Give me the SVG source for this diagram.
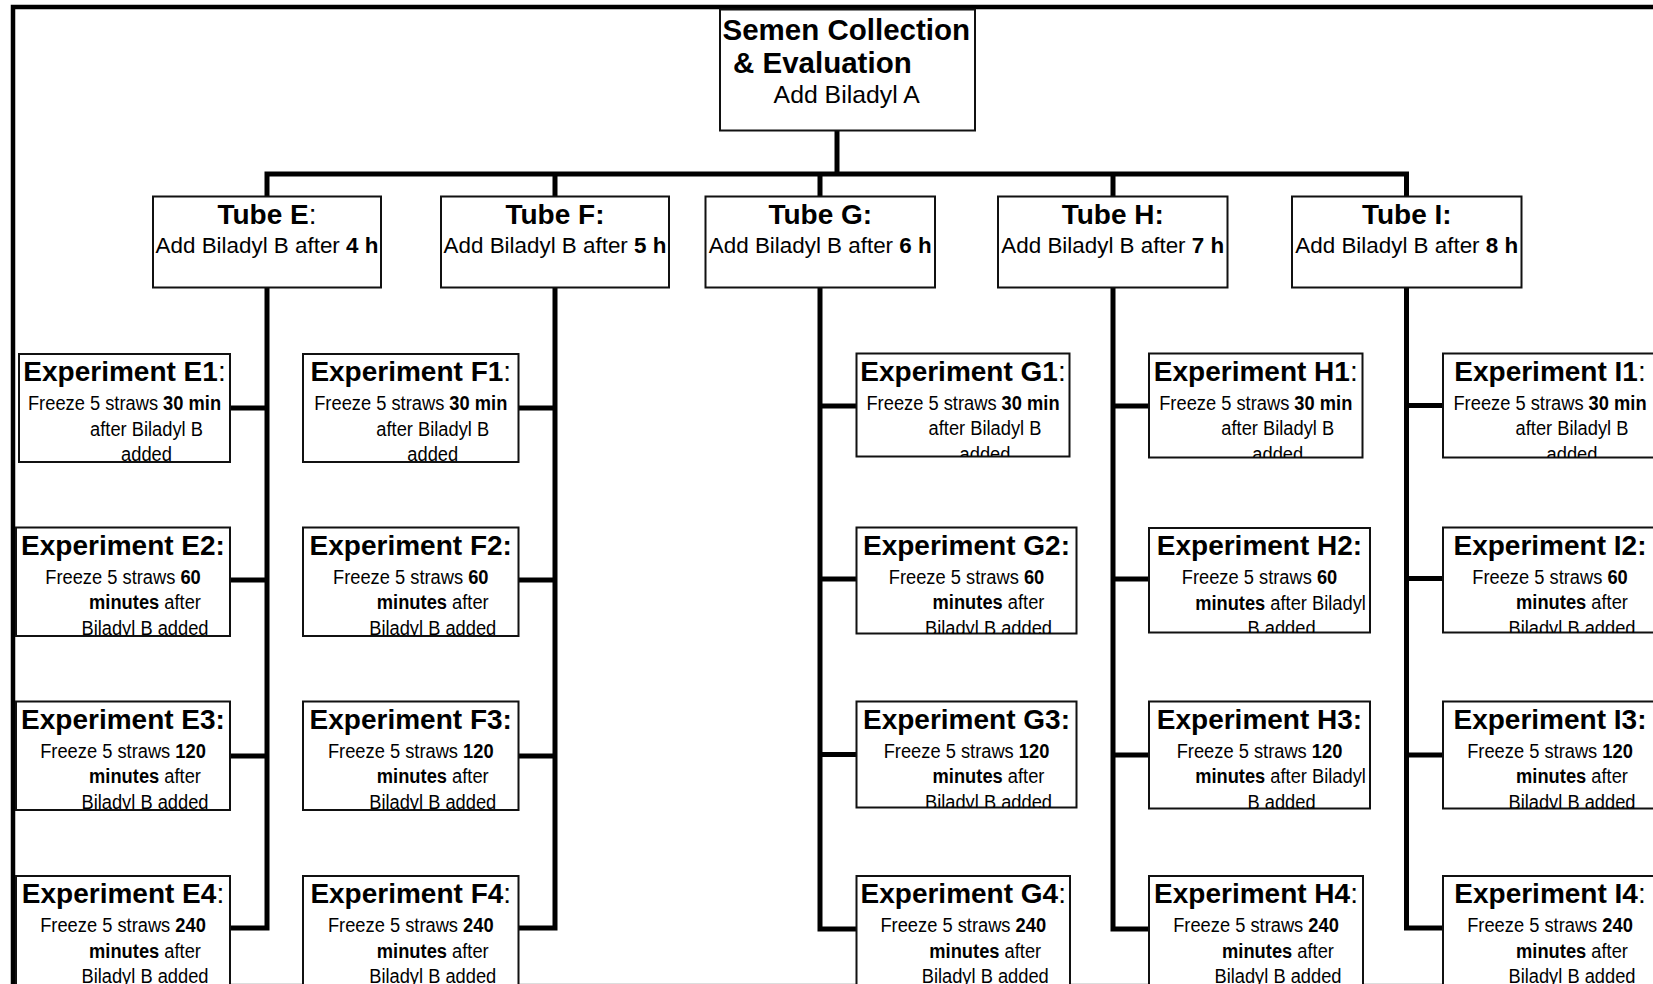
<svg xmlns="http://www.w3.org/2000/svg" width="1653" height="984" viewBox="0 0 1653 984">
<style>
.box{fill:#fff;stroke:#111;stroke-width:2}
.wire{fill:none;stroke:#000;stroke-width:5;stroke-linejoin:miter;stroke-linecap:butt}
.frame{fill:none;stroke:#000;stroke-width:4.5}
text{font-family:"Liberation Sans",Arial,sans-serif;fill:#000}
.b{font-weight:bold}
.r{font-weight:normal}
.rt{font-size:29.5px;font-weight:bold}
.rs{font-size:24.8px}
.tt{font-size:28px;font-weight:bold;text-anchor:middle}
.ts{font-size:22.4px;text-anchor:middle}
.et{font-size:28px;font-weight:bold;text-anchor:middle}
.eb{font-size:20px;text-anchor:middle}
</style>
<rect width="1653" height="984" fill="#fff"/>
<line x1="15" y1="983.5" x2="1653" y2="983.5" stroke="#ddd" stroke-width="1"/>
<rect class="frame" x="13" y="7" width="2000" height="2000"/>

<g id="connectors">
<path class="wire" d="M837,130.5 V174"/>
<path class="wire" d="M267,196.5 V174 H1406.5 V196.5"/>
<path class="wire" d="M555,174 V196.5 M820,174 V196.5 M1113,174 V196.5"/>
<path class="wire" d="M267,287.5 V928 H230 M230,408 H267 M230,580 H267 M230,756 H267"/>
<path class="wire" d="M555,287.5 V928 H518.5 M518.5,408 H555 M518.5,580 H555 M518.5,756 H555"/>
<path class="wire" d="M820,287.5 V929 H856.5 M820,406 H856.5 M820,579 H856.5 M820,754.5 H856.5"/>
<path class="wire" d="M1113,287.5 V929 H1149 M1113,406 H1149 M1113,579 H1149 M1113,755 H1149"/>
<path class="wire" d="M1406.5,287.5 V928 H1443 M1406.5,405.5 H1443 M1406.5,578.5 H1443 M1406.5,755 H1443"/>
</g>

<g id="root">
<rect class="box" x="720" y="9.5" width="255" height="121"/>
<text class="rt" x="722.5" y="39.5">Semen Collection</text>
<text class="rt" x="733" y="72.7">&amp; Evaluation</text>
<text class="rs" x="773.6" y="103.3">Add Biladyl A</text>
</g>

<g id="tubeE">
<rect class="box" x="153" y="196.5" width="228" height="91"/>
<text class="tt" x="267" y="223.5">Tube E<tspan class="r">:</tspan></text>
<text class="ts" x="267" y="253">Add Biladyl B after <tspan class="b">4 h</tspan></text>
</g>
<g id="tubeF">
<rect class="box" x="441" y="196.5" width="228" height="91"/>
<text class="tt" x="555" y="223.5">Tube F:</text>
<text class="ts" x="555" y="253">Add Biladyl B after <tspan class="b">5 h</tspan></text>
</g>
<g id="tubeG">
<rect class="box" x="705.5" y="196.5" width="229.5" height="91"/>
<text class="tt" x="820.25" y="223.5">Tube G:</text>
<text class="ts" x="820.25" y="253">Add Biladyl B after <tspan class="b">6 h</tspan></text>
</g>
<g id="tubeH">
<rect class="box" x="998" y="196.5" width="229.5" height="91"/>
<text class="tt" x="1112.75" y="223.5">Tube H:</text>
<text class="ts" x="1112.75" y="253">Add Biladyl B after <tspan class="b">7 h</tspan></text>
</g>
<g id="tubeI">
<rect class="box" x="1292" y="196.5" width="229.5" height="91"/>
<text class="tt" x="1406.75" y="223.5">Tube I:</text>
<text class="ts" x="1406.75" y="253">Add Biladyl B after <tspan class="b">8 h</tspan></text>
</g>

<!-- Column E -->
<g id="expE1">
<rect class="box" x="19" y="354" width="211" height="108"/>
<svg x="19" y="354" width="211" height="108">
<text class="et" x="105.5" y="27">Experiment E1<tspan class="r">:</tspan></text>
<text class="eb" transform="translate(105.5 56) scale(.915 1)">Freeze 5 straws <tspan class="b">30 min</tspan></text>
<text class="eb" transform="translate(127.5 81.5) scale(.915 1)">after Biladyl B</text>
<text class="eb" transform="translate(127.5 107) scale(.915 1)">added</text>
</svg>
</g>
<g id="expE2">
<rect class="box" x="16" y="527.5" width="214" height="108.5"/>
<svg x="16" y="527.5" width="214" height="108.5">
<text class="et" x="107" y="27">Experiment E2:</text>
<text class="eb" transform="translate(107 56) scale(.915 1)">Freeze 5 straws <tspan class="b">60</tspan></text>
<text class="eb" transform="translate(129 81.5) scale(.915 1)"><tspan class="b">minutes</tspan> after</text>
<text class="eb" transform="translate(129 107) scale(.915 1)">Biladyl B added</text>
</svg>
</g>
<g id="expE3">
<rect class="box" x="16" y="701.5" width="214" height="108.5"/>
<svg x="16" y="701.5" width="214" height="108.5">
<text class="et" x="107" y="27">Experiment E3:</text>
<text class="eb" transform="translate(107 56) scale(.915 1)">Freeze 5 straws <tspan class="b">120</tspan></text>
<text class="eb" transform="translate(129 81.5) scale(.915 1)"><tspan class="b">minutes</tspan> after</text>
<text class="eb" transform="translate(129 107) scale(.915 1)">Biladyl B added</text>
</svg>
</g>
<g id="expE4">
<rect class="box" x="16" y="876" width="214" height="110"/>
<svg x="16" y="876" width="214" height="110">
<text class="et" x="107" y="27">Experiment E4<tspan class="r">:</tspan></text>
<text class="eb" transform="translate(107 56) scale(.915 1)">Freeze 5 straws <tspan class="b">240</tspan></text>
<text class="eb" transform="translate(129 81.5) scale(.915 1)"><tspan class="b">minutes</tspan> after</text>
<text class="eb" transform="translate(129 107) scale(.915 1)">Biladyl B added</text>
</svg>
</g>

<!-- Column F -->
<g id="expF1">
<rect class="box" x="303" y="354" width="215.5" height="108"/>
<svg x="303" y="354" width="215.5" height="108">
<text class="et" x="107.75" y="27">Experiment F1<tspan class="r">:</tspan></text>
<text class="eb" transform="translate(107.75 56) scale(.915 1)">Freeze 5 straws <tspan class="b">30 min</tspan></text>
<text class="eb" transform="translate(129.75 81.5) scale(.915 1)">after Biladyl B</text>
<text class="eb" transform="translate(129.75 107) scale(.915 1)">added</text>
</svg>
</g>
<g id="expF2">
<rect class="box" x="303" y="527.5" width="215.5" height="108.5"/>
<svg x="303" y="527.5" width="215.5" height="108.5">
<text class="et" x="107.75" y="27">Experiment F2:</text>
<text class="eb" transform="translate(107.75 56) scale(.915 1)">Freeze 5 straws <tspan class="b">60</tspan></text>
<text class="eb" transform="translate(129.75 81.5) scale(.915 1)"><tspan class="b">minutes</tspan> after</text>
<text class="eb" transform="translate(129.75 107) scale(.915 1)">Biladyl B added</text>
</svg>
</g>
<g id="expF3">
<rect class="box" x="303" y="701.5" width="215.5" height="108.5"/>
<svg x="303" y="701.5" width="215.5" height="108.5">
<text class="et" x="107.75" y="27">Experiment F3:</text>
<text class="eb" transform="translate(107.75 56) scale(.915 1)">Freeze 5 straws <tspan class="b">120</tspan></text>
<text class="eb" transform="translate(129.75 81.5) scale(.915 1)"><tspan class="b">minutes</tspan> after</text>
<text class="eb" transform="translate(129.75 107) scale(.915 1)">Biladyl B added</text>
</svg>
</g>
<g id="expF4">
<rect class="box" x="303" y="876" width="215.5" height="110"/>
<svg x="303" y="876" width="215.5" height="110">
<text class="et" x="107.75" y="27">Experiment F4<tspan class="r">:</tspan></text>
<text class="eb" transform="translate(107.75 56) scale(.915 1)">Freeze 5 straws <tspan class="b">240</tspan></text>
<text class="eb" transform="translate(129.75 81.5) scale(.915 1)"><tspan class="b">minutes</tspan> after</text>
<text class="eb" transform="translate(129.75 107) scale(.915 1)">Biladyl B added</text>
</svg>
</g>

<!-- Column G -->
<g id="expG1">
<rect class="box" x="856.5" y="353.5" width="213" height="103"/>
<svg x="856.5" y="353.5" width="213" height="103">
<text class="et" x="106.5" y="27">Experiment G1<tspan class="r">:</tspan></text>
<text class="eb" transform="translate(106.5 56) scale(.915 1)">Freeze 5 straws <tspan class="b">30 min</tspan></text>
<text class="eb" transform="translate(128.5 81.5) scale(.915 1)">after Biladyl B</text>
<text class="eb" transform="translate(128.5 107) scale(.915 1)">added</text>
</svg>
</g>
<g id="expG2">
<rect class="box" x="856.5" y="527.5" width="220" height="106"/>
<svg x="856.5" y="527.5" width="220" height="106">
<text class="et" x="110" y="27">Experiment G2:</text>
<text class="eb" transform="translate(110 56) scale(.915 1)">Freeze 5 straws <tspan class="b">60</tspan></text>
<text class="eb" transform="translate(132 81.5) scale(.915 1)"><tspan class="b">minutes</tspan> after</text>
<text class="eb" transform="translate(132 107) scale(.915 1)">Biladyl B added</text>
</svg>
</g>
<g id="expG3">
<rect class="box" x="856.5" y="701.5" width="220" height="106"/>
<svg x="856.5" y="701.5" width="220" height="106">
<text class="et" x="110" y="27">Experiment G3:</text>
<text class="eb" transform="translate(110 56) scale(.915 1)">Freeze 5 straws <tspan class="b">120</tspan></text>
<text class="eb" transform="translate(132 81.5) scale(.915 1)"><tspan class="b">minutes</tspan> after</text>
<text class="eb" transform="translate(132 107) scale(.915 1)">Biladyl B added</text>
</svg>
</g>
<g id="expG4">
<rect class="box" x="856.5" y="876" width="213.5" height="110"/>
<svg x="856.5" y="876" width="213.5" height="110">
<text class="et" x="106.75" y="27">Experiment G4<tspan class="r">:</tspan></text>
<text class="eb" transform="translate(106.75 56) scale(.915 1)">Freeze 5 straws <tspan class="b">240</tspan></text>
<text class="eb" transform="translate(128.75 81.5) scale(.915 1)"><tspan class="b">minutes</tspan> after</text>
<text class="eb" transform="translate(128.75 107) scale(.915 1)">Biladyl B added</text>
</svg>
</g>

<!-- Column H -->
<g id="expH1">
<rect class="box" x="1149" y="353.5" width="213.5" height="104"/>
<svg x="1149" y="353.5" width="213.5" height="104">
<text class="et" x="106.75" y="27">Experiment H1<tspan class="r">:</tspan></text>
<text class="eb" transform="translate(106.75 56) scale(.915 1)">Freeze 5 straws <tspan class="b">30 min</tspan></text>
<text class="eb" transform="translate(128.75 81.5) scale(.915 1)">after Biladyl B</text>
<text class="eb" transform="translate(128.75 107) scale(.915 1)">added</text>
</svg>
</g>
<g id="expH2">
<rect class="box" x="1149" y="528" width="221" height="104.5"/>
<svg x="1149" y="528" width="221" height="104.5">
<text class="et" x="110.5" y="27">Experiment H2:</text>
<text class="eb" transform="translate(110.5 56) scale(.915 1)">Freeze 5 straws <tspan class="b">60</tspan></text>
<text class="eb" transform="translate(131.5 81.5) scale(.915 1)"><tspan class="b">minutes</tspan> after Biladyl</text>
<text class="eb" transform="translate(132.5 107) scale(.915 1)">B added</text>
</svg>
</g>
<g id="expH3">
<rect class="box" x="1149" y="701.5" width="221" height="107"/>
<svg x="1149" y="701.5" width="221" height="107">
<text class="et" x="110.5" y="27">Experiment H3:</text>
<text class="eb" transform="translate(110.5 56) scale(.915 1)">Freeze 5 straws <tspan class="b">120</tspan></text>
<text class="eb" transform="translate(131.5 81.5) scale(.915 1)"><tspan class="b">minutes</tspan> after Biladyl</text>
<text class="eb" transform="translate(132.5 107) scale(.915 1)">B added</text>
</svg>
</g>
<g id="expH4">
<rect class="box" x="1149" y="876" width="214" height="110"/>
<svg x="1149" y="876" width="214" height="110">
<text class="et" x="107" y="27">Experiment H4<tspan class="r">:</tspan></text>
<text class="eb" transform="translate(107 56) scale(.915 1)">Freeze 5 straws <tspan class="b">240</tspan></text>
<text class="eb" transform="translate(129 81.5) scale(.915 1)"><tspan class="b">minutes</tspan> after</text>
<text class="eb" transform="translate(129 107) scale(.915 1)">Biladyl B added</text>
</svg>
</g>

<!-- Column I -->
<g id="expI1">
<rect class="box" x="1443" y="353.5" width="214" height="104"/>
<svg x="1443" y="353.5" width="214" height="104">
<text class="et" x="107" y="27">Experiment I1<tspan class="r">:</tspan></text>
<text class="eb" transform="translate(107 56) scale(.915 1)">Freeze 5 straws <tspan class="b">30 min</tspan></text>
<text class="eb" transform="translate(129 81.5) scale(.915 1)">after Biladyl B</text>
<text class="eb" transform="translate(129 107) scale(.915 1)">added</text>
</svg>
</g>
<g id="expI2">
<rect class="box" x="1443" y="527.5" width="214" height="105"/>
<svg x="1443" y="527.5" width="214" height="105">
<text class="et" x="107" y="27">Experiment I2:</text>
<text class="eb" transform="translate(107 56) scale(.915 1)">Freeze 5 straws <tspan class="b">60</tspan></text>
<text class="eb" transform="translate(129 81.5) scale(.915 1)"><tspan class="b">minutes</tspan> after</text>
<text class="eb" transform="translate(129 107) scale(.915 1)">Biladyl B added</text>
</svg>
</g>
<g id="expI3">
<rect class="box" x="1443" y="701.5" width="214" height="107"/>
<svg x="1443" y="701.5" width="214" height="107">
<text class="et" x="107" y="27">Experiment I3:</text>
<text class="eb" transform="translate(107 56) scale(.915 1)">Freeze 5 straws <tspan class="b">120</tspan></text>
<text class="eb" transform="translate(129 81.5) scale(.915 1)"><tspan class="b">minutes</tspan> after</text>
<text class="eb" transform="translate(129 107) scale(.915 1)">Biladyl B added</text>
</svg>
</g>
<g id="expI4">
<rect class="box" x="1443" y="876" width="214" height="110"/>
<svg x="1443" y="876" width="214" height="110">
<text class="et" x="107" y="27">Experiment I4<tspan class="r">:</tspan></text>
<text class="eb" transform="translate(107 56) scale(.915 1)">Freeze 5 straws <tspan class="b">240</tspan></text>
<text class="eb" transform="translate(129 81.5) scale(.915 1)"><tspan class="b">minutes</tspan> after</text>
<text class="eb" transform="translate(129 107) scale(.915 1)">Biladyl B added</text>
</svg>
</g>
</svg>
